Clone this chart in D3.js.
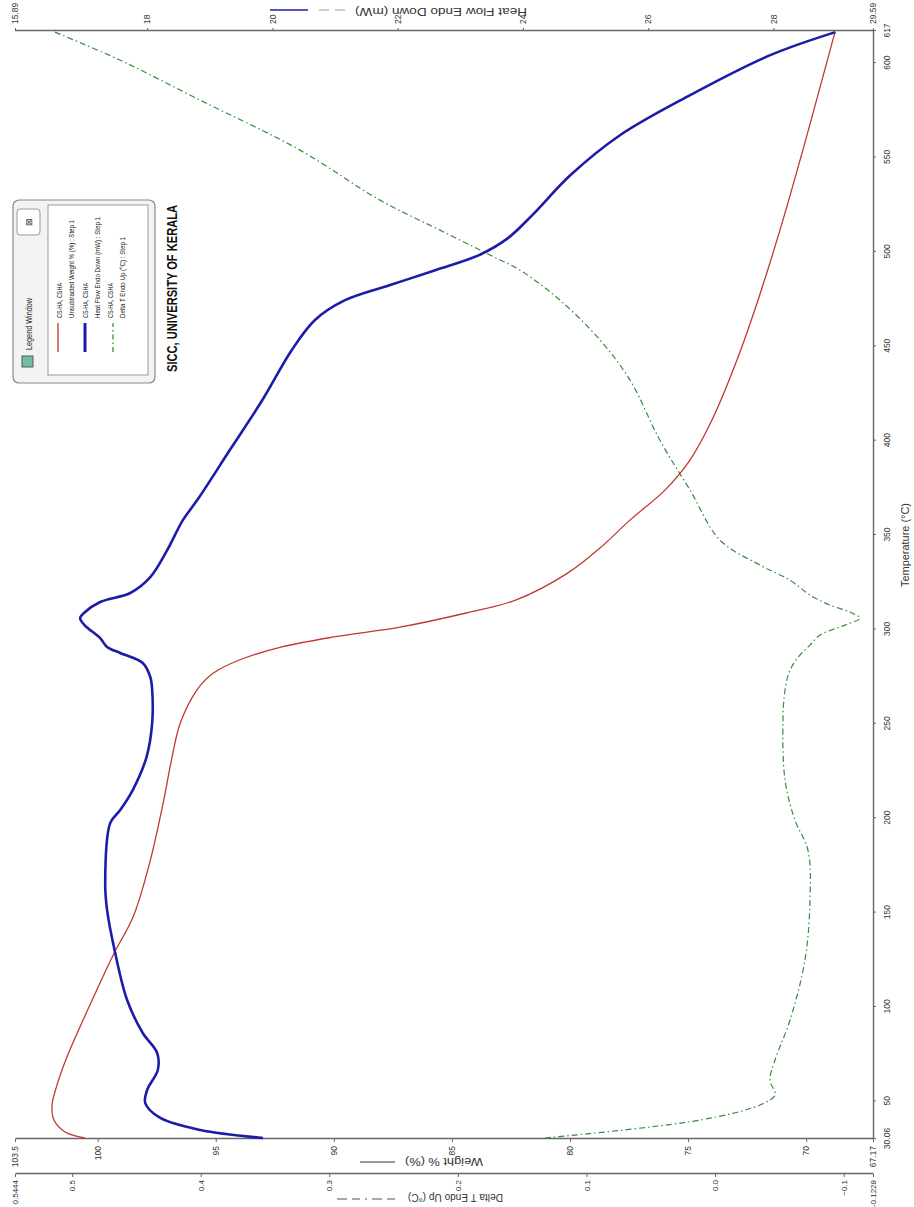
<!DOCTYPE html>
<html>
<head>
<meta charset="utf-8">
<script src="https://cdn.jsdelivr.net/npm/d3@7"></script>
<style>
  body { margin: 0; background: #fff; }
  svg { display: block; font-family: "Liberation Sans Narrow", "Liberation Sans", Arial, sans-serif; }
</style>
</head>
<body>
<div class="main"></div>
<script>
// Weight % curve (red)
const tempWeight = [30.6, 33.8, 40.1, 48.1, 58.7, 73.5, 112.7, 128.6, 147.6, 176.2, 209.6, 229.2, 250.4, 267.9, 276.9, 283.8, 290.7, 296, 301.2, 308.7, 315.5, 329.8, 343.1, 357.9, 373.8, 389.7, 410.9, 442.7, 474.4, 511.5, 553.9, 591, 616.4]
const weightPct = [100.54, 101.38, 101.85, 101.93, 101.72, 101.3, 99.9, 99.3, 98.5, 97.8, 97.2, 96.9, 96.5, 95.8, 95.1, 94.0, 92.2, 90.0, 87.2, 84.4, 82.3, 80.1, 78.73, 77.46, 75.98, 74.92, 73.99, 72.93, 72.04, 71.11, 70.14, 69.33, 68.78]

// Heat flow curve (blue)
const tempHeat = [30.6, 34.8, 41.2, 49.1, 56, 66.6, 75.6, 86.2, 103.7, 128.6, 151.4, 165.7, 197.4, 204.3, 214.9, 232.4, 250.4, 267.9, 274.8, 282.2, 287.5, 290.7, 295.4, 302.3, 306, 309, 314.5, 319.3, 327.7, 342, 357.9, 368.5, 395, 421.5, 448, 463.9, 474.4, 482.4, 490.3, 498.3, 507, 519.5, 540.7, 561.8, 583, 604.2, 616.4]
const heatFlow = [19.85, 18.85, 18.21, 17.97, 18.0, 18.17, 18.16, 17.93, 17.68, 17.49, 17.36, 17.33, 17.41, 17.57, 17.77, 17.99, 18.08, 18.08, 18.05, 17.93, 17.57, 17.36, 17.25, 17.0, 16.93, 17.0, 17.25, 17.73, 18.05, 18.32, 18.57, 18.8, 19.32, 19.84, 20.31, 20.68, 21.16, 21.88, 22.6, 23.3, 23.75, 24.15, 24.76, 25.55, 26.67, 27.95, 28.99]

// Delta T curve (green)
const tempDelta = [30.6, 40.1, 48.1, 53.4, 61.3, 71.9, 93.1, 124.9, 156.6, 183.1, 199, 220.2, 252, 267.9, 278.5, 286.4, 291.7, 297, 302.3, 306, 309.2, 312.9, 318.2, 326.1, 334.1, 347.3, 373.8, 400.3, 432.1, 453.3, 474.4, 490.3, 498.3, 511.5, 527.4, 553.9, 580.4, 601.6, 616.4]
const deltaT = [0.1323, 0.0117, -0.0349, -0.0466, -0.0427, -0.0466, -0.0583, -0.0699, -0.0738, -0.0722, -0.0621, -0.0544, -0.0528, -0.0544, -0.0583, -0.066, -0.0738, -0.0816, -0.101, -0.1127, -0.1049, -0.0893, -0.0738, -0.0583, -0.0349, -0.0038, 0.0195, 0.043, 0.0662, 0.0895, 0.1206, 0.1517, 0.175, 0.2139, 0.2606, 0.3228, 0.4005, 0.4628, 0.5133]

// Tick labels
const tempTicks = [30.06, 50, 100, 150, 200, 250, 300, 350, 400, 450, 500, 550, 600, 617]
const weightTicks = [103.5, 100, 95, 90, 85, 80, 75, 70, 67.17]
const deltaTicks = [0.5444, 0.5, 0.4, 0.3, 0.2, 0.1, 0, -0.1, -0.1228]
const heatTicks = [15.89, 18, 20, 22, 24, 26, 28, 29.59]

const sampleName = "CS-HA, CSHA"
const seriesNames = ["Unsubtracted Weight % (%) : Step 1", "Heat Flow Endo Down (mW) : Step 1", "Delta T Endo Up (°C) : Step 1"]

const width = 914
const height = 1207

const red = "#c0392f"
const blue = "#1c1ca8"
const green = "#3a8a3a"
const axisGrey = "#666"

// the plot is drawn landscape (x = temperature) and then turned a quarter turn
const x = d3.scaleLinear().domain([30.06, 617]).range([68, 1176])
const yW = d3.scaleLinear().domain([103.5, 67.17]).range([15, 873])
const yD = d3.scaleLinear().domain([0.5444, -0.1228]).range([15, 873])
const yH = d3.scaleLinear().domain([15.89, 29.59]).range([15, 873])

const trim = d => String(+d.toFixed(4))

const svg = d3.select(".main")
  .append("svg")
    .attr("width", width)
    .attr("height", height)

const g = svg.append("g")
  .attr("transform", `translate(0,${height}) rotate(-90)`)

function styleAxis(sel) {
  sel.select(".domain").attr("stroke", axisGrey).attr("stroke-width", 1.4)
  sel.selectAll(".tick line").attr("stroke", axisGrey)
  sel.selectAll(".tick text")
    .attr("fill", "#333")
    .attr("font-size", 8.5)
}

// Temperature axis
g.append("g")
  .attr("transform", `translate(0,${yW.range()[1]})`)
  .call(d3.axisBottom(x).tickValues(tempTicks).tickSize(3).tickPadding(8).tickSizeOuter(0).tickFormat(trim))
  .call(styleAxis)

// Weight axis
g.append("g")
  .attr("transform", `translate(${x.range()[0]},0)`)
  .call(d3.axisLeft(yW).tickValues(weightTicks).tickSize(3).tickPadding(4).tickSizeOuter(0).tickFormat(trim))
  .call(styleAxis)

// Delta T axis
g.append("g")
  .attr("transform", `translate(33,0)`)
  .call(d3.axisLeft(yD).tickValues(deltaTicks).tickSize(3).tickPadding(3).tickSizeOuter(0)
    .tickFormat(d => (d === 0.5444 || d === -0.1228) ? trim(d) : d3.format(".1f")(d)))
  .call(styleAxis)
  .call(a => a.selectAll(".tick text").attr("font-size", 8))

// Heat flow axis
g.append("g")
  .attr("transform", `translate(${x.range()[1]},0)`)
  .call(d3.axisRight(yH).tickValues(heatTicks).tickSize(3).tickPadding(4).tickSizeOuter(0).tickFormat(trim))
  .call(styleAxis)

// Curves
const line = (xs, ys, yScale) => d3.line()
  .x(i => x(xs[i]))
  .y(i => yScale(ys[i]))
  .curve(d3.curveCatmullRom.alpha(0.5))(d3.range(xs.length))

g.append("path")
  .attr("d", line(tempDelta, deltaT, yD))
  .attr("fill", "none")
  .attr("stroke", green)
  .attr("stroke-width", 1.2)
  .attr("stroke-dasharray", "6,3,1.5,3")

g.append("path")
  .attr("d", line(tempWeight, weightPct, yW))
  .attr("fill", "none")
  .attr("stroke", red)
  .attr("stroke-width", 1.3)

g.append("path")
  .attr("d", line(tempHeat, heatFlow, yH))
  .attr("fill", "none")
  .attr("stroke", blue)
  .attr("stroke-width", 2.6)

// Axis titles
g.append("text")
  .attr("x", 662)
  .attr("y", 909)
  .attr("text-anchor", "middle")
  .attr("font-size", 10)
  .attr("fill", "#333")
  .attr("textLength", 84)
  .attr("lengthAdjust", "spacingAndGlyphs")
  .text("Temperature (°C)")

g.append("text")
  .attr("transform", "translate(49,483) rotate(-90)")
  .attr("font-size", 10)
  .attr("fill", "#333")
  .attr("textLength", 78)
  .attr("lengthAdjust", "spacingAndGlyphs")
  .text("Weight % (%)")
g.append("line")
  .attr("x1", 45).attr("x2", 45)
  .attr("y1", 360).attr("y2", 395)
  .attr("stroke", "#333")

g.append("text")
  .attr("transform", "translate(13,503) rotate(-90)")
  .attr("font-size", 10)
  .attr("fill", "#333")
  .attr("textLength", 95)
  .attr("lengthAdjust", "spacingAndGlyphs")
  .text("Delta T Endo Up (°C)")
g.append("line")
  .attr("x1", 8).attr("x2", 8)
  .attr("y1", 337).attr("y2", 400)
  .attr("stroke", "#555")
  .attr("stroke-dasharray", "10,5,8,5,2,5")

g.append("text")
  .attr("transform", "translate(1199,527) rotate(-90)")
  .attr("font-size", 10)
  .attr("fill", "#333")
  .attr("textLength", 172)
  .attr("lengthAdjust", "spacingAndGlyphs")
  .text("Heat Flow Endo Down (mW)")
g.append("line")
  .attr("x1", 1197).attr("x2", 1197)
  .attr("y1", 270).attr("y2", 308)
  .attr("stroke", blue)
  .attr("stroke-width", 1.6)
g.append("line")
  .attr("x1", 1197).attr("x2", 1197)
  .attr("y1", 319).attr("y2", 350)
  .attr("stroke", "#999")
  .attr("stroke-dasharray", "10,6")

// Legend window
const lg = g.append("g").attr("id", "legend")

lg.append("rect")
  .attr("x", 824).attr("y", 13)
  .attr("width", 183).attr("height", 142)
  .attr("rx", 6)
  .attr("fill", "#f3f3f3")
  .attr("stroke", "#888")
  .attr("stroke-width", 1.2)

lg.append("rect")
  .attr("x", 832).attr("y", 48)
  .attr("width", 170).attr("height", 100)
  .attr("fill", "#fff")
  .attr("stroke", "#999")

lg.append("rect")
  .attr("x", 840).attr("y", 22)
  .attr("width", 11).attr("height", 11)
  .attr("fill", "#6fbf9a")
  .attr("stroke", "#557")

lg.append("text")
  .attr("x", 857).attr("y", 32)
  .attr("font-size", 9)
  .attr("fill", "#222")
  .attr("textLength", 52)
  .attr("lengthAdjust", "spacingAndGlyphs")
  .text("Legend Window")

lg.append("rect")
  .attr("x", 972).attr("y", 17)
  .attr("width", 26).attr("height", 23)
  .attr("rx", 3)
  .attr("fill", "#fff")
  .attr("stroke", "#999")
lg.append("text")
  .attr("x", 985).attr("y", 32)
  .attr("text-anchor", "middle")
  .attr("font-size", 9)
  .attr("fill", "#444")
  .text("⊠")

const rowStyles = [
  {color: red, w: 1.3, dash: null, at: 58},
  {color: blue, w: 3, dash: null, at: 85},
  {color: green, w: 1.3, dash: "5,3,1.5,3", at: 113}
]
const rowText = [[62, 74, 98], [88, 100, 101], [113, 125, 81]]

seriesNames.forEach((name, i) => {
  const s = rowStyles[i]
  lg.append("line")
    .attr("x1", 855).attr("x2", 884)
    .attr("y1", s.at).attr("y2", s.at)
    .attr("stroke", s.color)
    .attr("stroke-width", s.w)
    .attr("stroke-dasharray", s.dash)
  lg.append("text")
    .attr("x", 889).attr("y", rowText[i][0])
    .attr("font-size", 7.5)
    .attr("fill", "#222")
    .attr("textLength", 35)
    .attr("lengthAdjust", "spacingAndGlyphs")
    .text(sampleName)
  lg.append("text")
    .attr("x", 889).attr("y", rowText[i][1])
    .attr("font-size", 7.5)
    .attr("fill", "#222")
    .attr("textLength", rowText[i][2])
    .attr("lengthAdjust", "spacingAndGlyphs")
    .text(name)
})

g.append("text")
  .attr("x", 835).attr("y", 177)
  .attr("font-size", 15)
  .attr("font-weight", "bold")
  .attr("fill", "#111")
  .attr("textLength", 167)
  .attr("lengthAdjust", "spacingAndGlyphs")
  .text("SICC, UNIVERSITY OF KERALA")
</script>
</body>
</html>
